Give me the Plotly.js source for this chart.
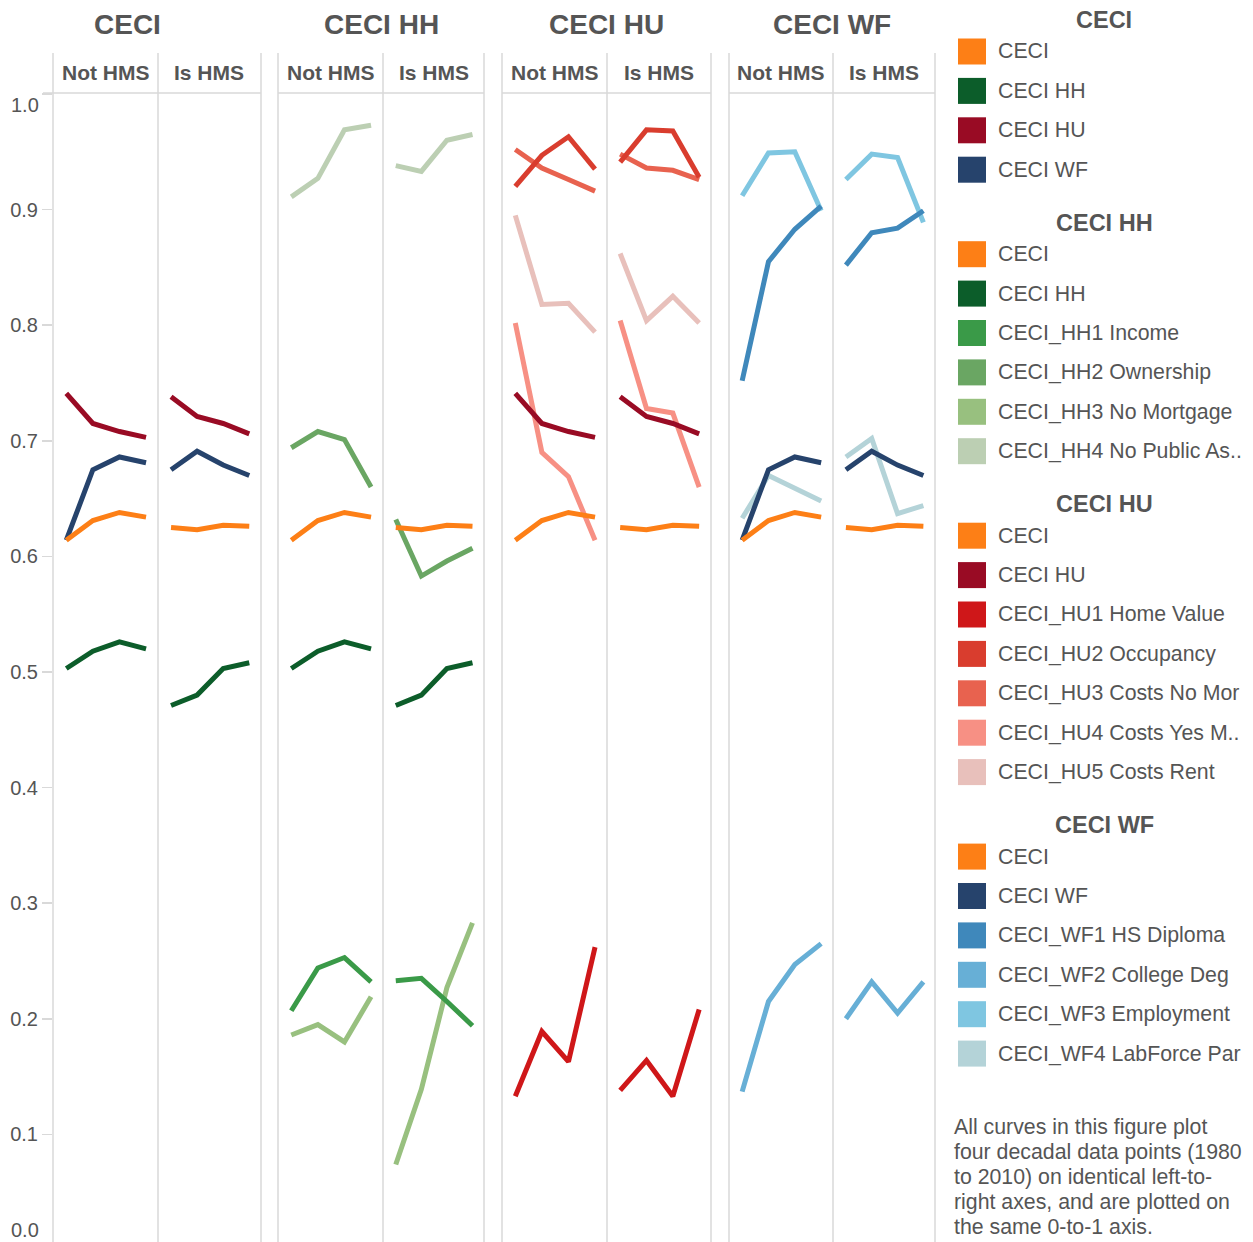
<!DOCTYPE html>
<html><head><meta charset="utf-8">
<script src="https://cdn.plot.ly/plotly-3.0.1.min.js"></script>
<style>
html,body{margin:0;padding:0;overflow:hidden;background:#fff;width:1253px;height:1242px}
#chart{width:1253px;height:1258px}
</style>
</head><body><div id="chart"></div><script>
// ---------------- DATA ----------------
const years = [1980, 1990, 2000, 2010];
const groupTitles = ['CECI', 'CECI HH', 'CECI HU', 'CECI WF'];
const panelLabels = ['Not HMS', 'Is HMS'];
const yTickVals = [0, 0.1, 0.2, 0.3, 0.4, 0.5, 0.6, 0.7, 0.8, 0.9, 1.0];

// composite indices
const ceci_not = [0.614, 0.631, 0.638, 0.634];
const ceci_is  = [0.625, 0.623, 0.627, 0.626];
const hh_not   = [0.503, 0.518, 0.526, 0.520];
const hh_is    = [0.471, 0.480, 0.503, 0.508];
const hu_not   = [0.741, 0.715, 0.708, 0.703];
const hu_is    = [0.738, 0.721, 0.715, 0.706];
const wf_not   = [0.614, 0.675, 0.686, 0.681];
const wf_is    = [0.675, 0.691, 0.679, 0.670];

// HH components
const hh1_not = [0.207, 0.244, 0.253, 0.232];
const hh1_is  = [0.233, 0.235, 0.215, 0.194];
const hh2_not = [0.694, 0.708, 0.701, 0.660];
const hh2_is  = [0.632, 0.583, 0.596, 0.607];
const hh3_not = [0.186, 0.195, 0.180, 0.219];
const hh3_is  = [0.074, 0.139, 0.227, 0.283];
const hh4_not = [0.911, 0.927, 0.969, 0.973];
const hh4_is  = [0.938, 0.933, 0.960, 0.965];

// HU components
const hu1_not = [0.133, 0.189, 0.163, 0.262];
const hu1_is  = [0.138, 0.164, 0.133, 0.208];
const hu2_not = [0.920, 0.947, 0.963, 0.935];
const hu2_is  = [0.941, 0.969, 0.968, 0.928];
const hu3_not = [0.952, 0.936, 0.926, 0.916];
const hu3_is  = [0.948, 0.936, 0.934, 0.926];
const hu4_not = [0.802, 0.690, 0.669, 0.614];
const hu4_is  = [0.804, 0.728, 0.724, 0.660];
const hu5_not = [0.895, 0.818, 0.819, 0.794];
const hu5_is  = [0.862, 0.804, 0.825, 0.802];

// WF components
const wf1_not = [0.752, 0.855, 0.883, 0.903];
const wf1_is  = [0.852, 0.880, 0.884, 0.899];
const wf2_not = [0.137, 0.215, 0.247, 0.265];
const wf2_is  = [0.200, 0.232, 0.205, 0.232];
const wf3_not = [0.912, 0.949, 0.950, 0.899];
const wf3_is  = [0.926, 0.948, 0.945, 0.889];
const wf4_not = [0.633, 0.670, 0.659, 0.648];
const wf4_is  = [0.686, 0.702, 0.637, 0.644];

const noteLines = [
  'All curves in this figure plot',
  'four decadal data points (1980',
  'to 2010) on identical left-to-',
  'right axes, and are plotted on',
  'the same 0-to-1 axis.'
];

// ---------------- STYLE ----------------
const C = {
  ceci: '#fd7f16', hh: '#0c5d2a', hu: '#990b24', wf: '#26436c',
  hh1: '#3a9a48', hh2: '#6aa663', hh3: '#98c07f', hh4: '#bccfb3',
  hu1: '#cf1719', hu2: '#d93d2e', hu3: '#e8624f', hu4: '#f79084', hu5: '#e8c0bb',
  wf1: '#3f88bb', wf2: '#67afd6', wf3: '#7fc6e1', wf4: '#b4d3d8'
};
const FONT = 'Liberation Sans, Arial, sans-serif';
const TXT = '#555555';

const groups = [
  { title: groupTitles[0], series: [
    ['CECI', C.ceci, ceci_not, ceci_is],
    ['CECI HH', C.hh, hh_not, hh_is],
    ['CECI HU', C.hu, hu_not, hu_is],
    ['CECI WF', C.wf, wf_not, wf_is]]},
  { title: groupTitles[1], series: [
    ['CECI', C.ceci, ceci_not, ceci_is],
    ['CECI HH', C.hh, hh_not, hh_is],
    ['CECI_HH1 Income', C.hh1, hh1_not, hh1_is],
    ['CECI_HH2 Ownership', C.hh2, hh2_not, hh2_is],
    ['CECI_HH3 No Mortgage', C.hh3, hh3_not, hh3_is],
    ['CECI_HH4 No Public As..', C.hh4, hh4_not, hh4_is]]},
  { title: groupTitles[2], series: [
    ['CECI', C.ceci, ceci_not, ceci_is],
    ['CECI HU', C.hu, hu_not, hu_is],
    ['CECI_HU1 Home Value', C.hu1, hu1_not, hu1_is],
    ['CECI_HU2 Occupancy', C.hu2, hu2_not, hu2_is],
    ['CECI_HU3 Costs No Mor', C.hu3, hu3_not, hu3_is],
    ['CECI_HU4 Costs Yes M..', C.hu4, hu4_not, hu4_is],
    ['CECI_HU5 Costs Rent', C.hu5, hu5_not, hu5_is]]},
  { title: groupTitles[3], series: [
    ['CECI', C.ceci, ceci_not, ceci_is],
    ['CECI WF', C.wf, wf_not, wf_is],
    ['CECI_WF1 HS Diploma', C.wf1, wf1_not, wf1_is],
    ['CECI_WF2 College Deg', C.wf2, wf2_not, wf2_is],
    ['CECI_WF3 Employment', C.wf3, wf3_not, wf3_is],
    ['CECI_WF4 LabForce Par', C.wf4, wf4_not, wf4_is]]}
];

// ---------------- LAYOUT GEOMETRY (pixels) ----------------
const W = 1253, H = 1258;
const PLOT_TOP = 94, PLOT_BOTTOM = 1250, HEADER_TOP = 53;
const panelEdges = [[53,158],[158,261],[278,383],[383,484],[502,607],[607,711],[729,833],[833,935]];
const groupTitleX = [127, 381, 606.5, 832];
const px = v => v / W;
const py = v => (H - v) / H;

const traces = [];
const layout = {
  width: W, height: H,
  margin: {l: 0, r: 0, t: 0, b: 0, pad: 0},
  paper_bgcolor: '#fff', plot_bgcolor: 'rgba(0,0,0,0)',
  showlegend: false,
  font: {family: FONT, color: TXT},
  shapes: [], annotations: [],
  yaxis: {
    domain: [py(PLOT_BOTTOM), py(PLOT_TOP)], range: [0, 1], anchor: 'x',
    tickmode: 'array', tickvals: yTickVals,
    // end labels are nudged inside the plot (as in the original), drawn below
    ticktext: yTickVals.map(v => (v === 0 || v === 1) ? '' : v.toFixed(1)),
    ticks: 'outside', ticklen: 10, tickwidth: 1.5, tickcolor: '#d9d9d9',
    showgrid: false, zeroline: false, showline: false, fixedrange: true,
    tickfont: {family: FONT, size: 20, color: TXT}
  }
};

// end tick labels (1.0 shifted down, 0.0 shifted up)
[[1, PLOT_TOP + 11], [0, PLOT_BOTTOM - 20]].forEach(([v, yy]) => {
  layout.annotations.push({
    xref: 'paper', yref: 'paper', x: px(41), y: py(yy),
    text: v.toFixed(1), showarrow: false, xanchor: 'right', yanchor: 'middle',
    font: {family: FONT, size: 20, color: TXT}
  });
});

groups.forEach((g, gi) => {
  [0, 1].forEach(p => {
    const k = gi * 2 + p;
    const xname = k === 0 ? 'x' : 'x' + (k + 1);
    const axKey = k === 0 ? 'xaxis' : 'xaxis' + (k + 1);
    const [x0, x1] = panelEdges[k];
    layout[axKey] = {
      domain: [px(x0), px(x1)], range: [1975, 2014.5], anchor: 'y',
      showticklabels: false, ticks: '', showgrid: false, zeroline: false,
      showline: false, fixedrange: true
    };
    g.series.slice().reverse().forEach(s => {
      traces.push({
        type: 'scatter', mode: 'lines', name: s[0],
        x: years, y: p === 0 ? s[2] : s[3],
        xaxis: xname, yaxis: 'y',
        line: {color: s[1], width: 5},
        hoverinfo: 'name+x+y'
      });
    });
    layout.annotations.push({
      xref: 'paper', yref: 'paper', x: px((x0 + x1) / 2), y: py(73),
      text: '<b>' + panelLabels[p] + '</b>', showarrow: false,
      xanchor: 'center', yanchor: 'middle',
      font: {family: FONT, size: 21, color: TXT}
    });
  });
  layout.annotations.push({
    xref: 'paper', yref: 'paper', x: px(groupTitleX[gi]), y: py(25),
    text: '<b>' + g.title + '</b>', showarrow: false,
    xanchor: 'center', yanchor: 'middle',
    font: {family: FONT, size: 28, color: TXT}
  });
  const gx0 = gi === 0 ? 43 : panelEdges[gi * 2][0];
  const gx1 = panelEdges[gi * 2 + 1][1];
  layout.shapes.push({
    type: 'line', xref: 'paper', yref: 'paper', layer: 'below',
    x0: px(gx0), x1: px(gx1), y0: py(93), y1: py(93),
    line: {color: '#d9d9d9', width: 1.5}
  });
});

const edgeSet = [...new Set(panelEdges.flat())];
edgeSet.forEach(e => {
  layout.shapes.push({
    type: 'line', xref: 'paper', yref: 'paper', layer: 'below',
    x0: px(e), x1: px(e), y0: 0, y1: py(HEADER_TOP),
    line: {color: '#d9d9d9', width: 1.5}
  });
});

// legend (drawn with shapes + annotations)
const LEG_TITLE_X = 1104, SW_X0 = 958, SW_X1 = 986, TXT_X = 996, ROW = 39.4;
let titleY = 20;
groups.forEach(g => {
  layout.annotations.push({
    xref: 'paper', yref: 'paper', x: px(LEG_TITLE_X), y: py(titleY),
    text: '<b>' + g.title + '</b>', showarrow: false,
    xanchor: 'center', yanchor: 'middle',
    font: {family: FONT, size: 23.5, color: TXT}
  });
  let rowY = titleY + 31.5;
  g.series.forEach(s => {
    layout.shapes.push({
      type: 'rect', xref: 'paper', yref: 'paper',
      x0: px(SW_X0), x1: px(SW_X1), y0: py(rowY + 13), y1: py(rowY - 13),
      fillcolor: s[1], line: {width: 0}
    });
    layout.annotations.push({
      xref: 'paper', yref: 'paper', x: px(TXT_X), y: py(rowY),
      text: s[0], showarrow: false, xanchor: 'left', yanchor: 'middle',
      font: {family: FONT, size: 21.3, color: TXT}
    });
    rowY += ROW;
  });
  titleY = rowY - ROW + 53;
});

noteLines.forEach((t, i) => {
  layout.annotations.push({
    xref: 'paper', yref: 'paper', x: px(952), y: py(1127 + i * 25),
    text: t, showarrow: false, xanchor: 'left', yanchor: 'middle',
    font: {family: FONT, size: 21.3, color: TXT}
  });
});

Plotly.newPlot('chart', traces, layout, {displayModeBar: false, staticPlot: true});
</script></body></html>
